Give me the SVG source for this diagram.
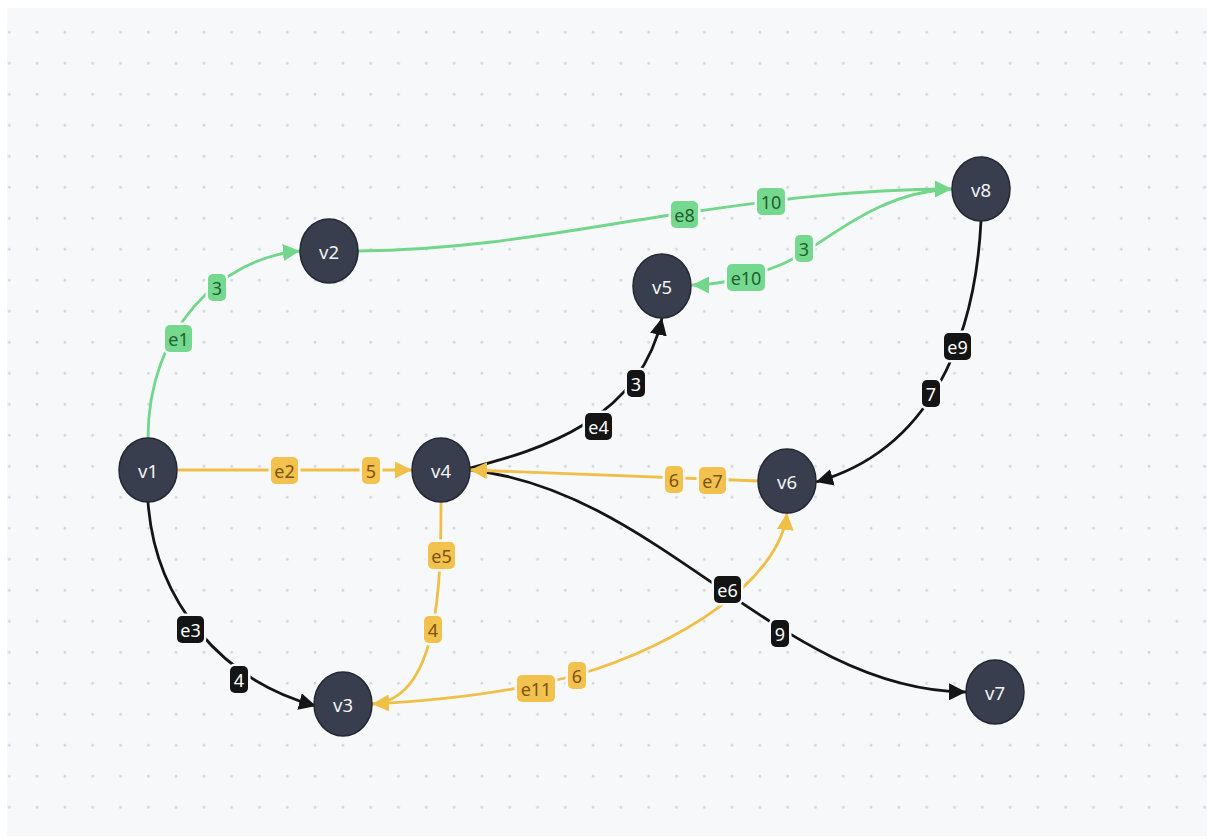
<svg xmlns="http://www.w3.org/2000/svg" width="1211" height="839" viewBox="0 0 1211 839">
<style>
.node ellipse{fill:#383e4d;stroke:#232833;stroke-width:1.5}
.node text{fill:#f2f3f5;font-family:"Noto Sans","Open Sans",sans-serif;font-size:18.5px;text-anchor:middle;dominant-baseline:central}
.edge{fill:none;stroke-width:2.8}
.g{stroke:#72d68b}
.y{stroke:#f0bf47}
.k{stroke:#151515}
.lbl rect{stroke:#f7f8fa;stroke-width:5;paint-order:stroke;rx:5;ry:5}
.lbl text{font-family:"Noto Sans","Open Sans",sans-serif;font-size:18px;text-anchor:middle;dominant-baseline:central}
.lg rect{fill:#74d88e}.lg text{fill:#22602f}
.ly rect{fill:#f2c14e}.ly text{fill:#7a5410}
.lk rect{fill:#141414}.lk text{fill:#ffffff}
</style>
<defs>
<pattern id="dots" patternUnits="userSpaceOnUse" x="-4.6" y="16.8" width="27.8" height="31">
<circle cx="13.9" cy="15.5" r="1.4" fill="#d3d6dc"/>
</pattern>
<marker id="ag" markerUnits="userSpaceOnUse" markerWidth="17" markerHeight="17" viewBox="0 0 14 14" refX="14" refY="7" orient="auto"><path d="M0,0 L14,7 L0,14 z" fill="#72d68b"/></marker>
<marker id="ay" markerUnits="userSpaceOnUse" markerWidth="17" markerHeight="17" viewBox="0 0 14 14" refX="14" refY="7" orient="auto"><path d="M0,0 L14,7 L0,14 z" fill="#f0bf47"/></marker>
<marker id="ak" markerUnits="userSpaceOnUse" markerWidth="17" markerHeight="17" viewBox="0 0 14 14" refX="14" refY="7" orient="auto"><path d="M0,0 L14,7 L0,14 z" fill="#151515"/></marker>
</defs>
<rect x="0" y="0" width="1211" height="839" fill="#ffffff"/>
<rect x="7" y="8" width="1200" height="828" fill="#f7f8fa"/>
<rect x="7" y="8" width="1200" height="828" fill="url(#dots)"/>

<g id="connectors">
<path id="e1" class="edge g" d="M148,438 C148,330 220,258 300,251" marker-end="url(#ag)"/>
<path id="e2" class="edge y" d="M178,470 L412,470" marker-end="url(#ay)"/>
<path id="e3" class="edge k" d="M148,502 C155,600 220,680 316,706" marker-end="url(#ak)"/>
<path id="e4" class="edge k" d="M470,468 C540,450 640,420 662,318" marker-end="url(#ak)"/>
<path id="e5" class="edge y" d="M441,502 C441,580 440,700 372,704" marker-end="url(#ay)"/>
<path id="e6" class="edge k" d="M470,470 C660,490 780,690 966,692" marker-end="url(#ak)"/>
<path id="e7" class="edge y" d="M759,481 L470,470" marker-end="url(#ay)"/>
<path id="e8" class="edge g" d="M358,251 C480,250 580,228 684,213 C760,202 850,189 952,189" marker-end="url(#ag)"/>
<path id="e9" class="edge k" d="M981,221 C975,340 930,450 816,482" marker-end="url(#ak)"/>
<path id="e10" class="edge g" d="M952,189 C870,192 820,250 780,265 C750,277 720,285 692,285" marker-end="url(#ag)"/>
<path id="e11" class="edge y" d="M372,704 C450,700 520,690 577,675 C680,645 780,580 787,513" marker-end="url(#ay)"/>

<g class="lbl lg"><rect x="165" y="325" width="27" height="27"/><text x="178.5" y="338.5">e1</text></g>
<g class="lbl lg"><rect x="208" y="274" width="18" height="27"/><text x="217" y="287.5">3</text></g>
<g class="lbl ly"><rect x="271" y="457" width="27" height="27"/><text x="284.5" y="470.5">e2</text></g>
<g class="lbl ly"><rect x="362" y="457" width="18" height="27"/><text x="371" y="470.5">5</text></g>
<g class="lbl lk"><rect x="177" y="616" width="27" height="27"/><text x="190.5" y="629.5">e3</text></g>
<g class="lbl lk"><rect x="230" y="666" width="18" height="27"/><text x="239" y="679.5">4</text></g>
<g class="lbl lk"><rect x="585" y="413" width="27" height="27"/><text x="598.5" y="426.5">e4</text></g>
<g class="lbl lk"><rect x="627" y="370" width="18" height="27"/><text x="636" y="383.5">3</text></g>
<g class="lbl ly"><rect x="428" y="542" width="27" height="27"/><text x="441.5" y="555.5">e5</text></g>
<g class="lbl ly"><rect x="424" y="616" width="18" height="27"/><text x="433" y="629.5">4</text></g>
<g class="lbl ly"><rect x="665" y="466" width="18" height="27"/><text x="674" y="479.5">6</text></g>
<g class="lbl ly"><rect x="699" y="467" width="27" height="27"/><text x="712.5" y="480.5">e7</text></g>
<g class="lbl lg"><rect x="671" y="201" width="27" height="27"/><text x="684.5" y="214.5">e8</text></g>
<g class="lbl lg"><rect x="757" y="188" width="28" height="27"/><text x="771" y="201.5">10</text></g>
<g class="lbl lk"><rect x="944" y="333" width="27" height="27"/><text x="957.5" y="346.5">e9</text></g>
<g class="lbl lk"><rect x="922" y="380" width="18" height="27"/><text x="931" y="393.5">7</text></g>
<g class="lbl lg"><rect x="727" y="264" width="38" height="27"/><text x="746" y="277.5">e10</text></g>
<g class="lbl lg"><rect x="795" y="235" width="18" height="27"/><text x="804" y="248.5">3</text></g>
<g class="lbl ly"><rect x="517" y="675" width="38" height="27"/><text x="536" y="688.5">e11</text></g>
<g class="lbl ly"><rect x="568" y="662" width="18" height="27"/><text x="577" y="675.5">6</text></g>
<g class="lbl lk"><rect x="714" y="576" width="27" height="27"/><text x="727.5" y="589.5">e6</text></g>
<g class="lbl lk"><rect x="771" y="620" width="18" height="27"/><text x="780" y="633.5">9</text></g>
</g>

<g id="v1" class="node"><ellipse cx="148" cy="470" rx="29" ry="32"/><text x="148" y="470">v1</text></g>
<g id="v2" class="node"><ellipse cx="329" cy="251" rx="29" ry="32"/><text x="329" y="251">v2</text></g>
<g id="v3" class="node"><ellipse cx="343" cy="704" rx="29" ry="32"/><text x="343" y="704">v3</text></g>
<g id="v4" class="node"><ellipse cx="441" cy="470" rx="29" ry="32"/><text x="441" y="470">v4</text></g>
<g id="v5" class="node"><ellipse cx="662" cy="286" rx="29" ry="32"/><text x="662" y="286">v5</text></g>
<g id="v6" class="node"><ellipse cx="787" cy="481" rx="29" ry="32"/><text x="787" y="481">v6</text></g>
<g id="v7" class="node"><ellipse cx="995" cy="692" rx="29" ry="32"/><text x="995" y="692">v7</text></g>
<g id="v8" class="node"><ellipse cx="981" cy="189" rx="29" ry="32"/><text x="981" y="189">v8</text></g>
</svg>
